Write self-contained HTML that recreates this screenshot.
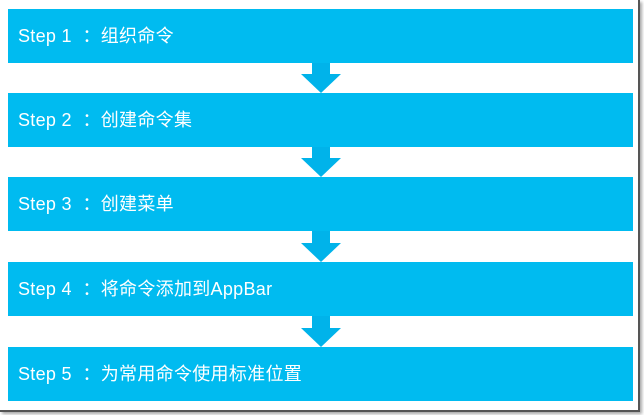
<!DOCTYPE html>
<html><head><meta charset="utf-8"><style>
body{margin:0;width:644px;height:415px;background:#fff;position:relative;overflow:hidden;font-family:"Liberation Sans","Noto Sans CJK SC",sans-serif}
.frame{position:absolute;left:0;top:0;width:638px;height:410px;border-right:2px solid #555;border-bottom:2px solid #555;box-shadow:2px 2px 3px rgba(0,0,0,.35)}
.b{position:absolute;left:8px;width:625px;height:54px;background:#00bbf0;color:#fff;font-size:18px;line-height:54px;box-sizing:border-box;padding-left:10px;letter-spacing:0.3px}
.s{position:absolute;left:312px;width:18px;background:#00b3ea}
.t{position:absolute;left:301px;width:0;height:0;border-left:20px solid transparent;border-right:20px solid transparent;border-top:19px solid #00b3ea}
</style></head><body>
<div class="frame"></div>
<div class="b" style="top:9px">Step 1&nbsp;&nbsp;：组织命令</div>
<div class="b" style="top:93px">Step 2&nbsp;&nbsp;：创建命令集</div>
<div class="b" style="top:177px">Step 3&nbsp;&nbsp;：创建菜单</div>
<div class="b" style="top:262px">Step 4&nbsp;&nbsp;：将命令添加到AppBar</div>
<div class="b" style="top:347px">Step 5&nbsp;&nbsp;：为常用命令使用标准位置</div>
<div class="s" style="top:63px;height:11px"></div><div class="t" style="top:74px"></div>
<div class="s" style="top:147px;height:11px"></div><div class="t" style="top:158px"></div>
<div class="s" style="top:231px;height:12px"></div><div class="t" style="top:243px"></div>
<div class="s" style="top:316px;height:12px"></div><div class="t" style="top:328px"></div>
</body></html>
